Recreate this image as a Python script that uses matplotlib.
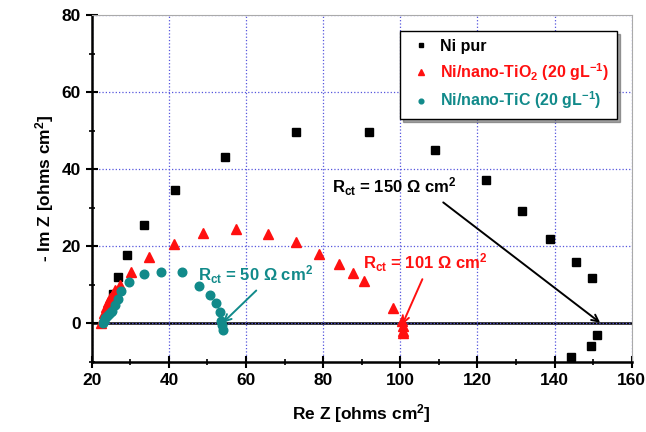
import matplotlib.pyplot as plt
from matplotlib.ticker import MultipleLocator

plt.rcParams['font.family'] = ['Liberation Sans', 'DejaVu Sans']
plt.rcParams['font.weight'] = 'bold'
plt.rcParams['mathtext.fontset'] = 'custom'
plt.rcParams['mathtext.rm'] = 'Liberation Sans:bold'
plt.rcParams['mathtext.bf'] = 'Liberation Sans:bold'
plt.rcParams['mathtext.default'] = 'bf'

# Ni pur
ni_x = [25.5, 26.8, 29.2, 33.5, 41.7, 54.6, 73.0, 91.8, 108.9, 122.1, 131.5,
        138.7, 145.6, 149.7, 151.1, 149.5, 144.3]
ni_y = [7.7, 12.0, 17.7, 25.5, 34.5, 43.3, 49.6, 49.7, 45.1, 37.1, 29.2,
        21.8, 15.9, 11.9, -3.1, -5.9, -8.6]

# Ni/nano-TiO2
tio2_x = [22.5, 22.9, 23.3, 23.8, 24.3, 24.8, 25.4, 26.1, 27.4, 30.3, 34.8,
          41.4, 48.8, 57.4, 65.8, 73.0, 78.9, 84.2, 87.7, 90.5, 98.1, 100.5,
          100.6, 100.8, 100.8]
tio2_y = [0.0, 1.4, 2.8, 4.2, 5.5, 6.6, 7.7, 8.8, 10.1, 13.3, 17.2,
          20.7, 23.5, 24.6, 23.3, 21.2, 18.1, 15.5, 13.1, 11.0, 4.1, 0.6,
          -0.6, -1.9, -2.6]

# Ni/nano-TiC
tic_x = [22.8, 23.1, 23.5, 23.9, 24.4, 24.9, 25.3, 26.0, 26.7, 27.7, 29.7,
         33.5, 38.0, 43.5, 47.8, 50.7, 52.3, 53.2, 53.6, 53.8, 53.9]
tic_y = [0.0, 0.7, 1.3, 1.9, 2.4, 2.9, 3.2, 4.9, 6.4, 8.4, 10.7,
         12.9, 13.4, 13.3, 9.8, 7.3, 5.4, 2.9, 0.6, -0.5, -1.6]

red = '#ff1010'
teal = '#118a8a'

fig = plt.figure(figsize=(6.46, 4.32), dpi=100)
ax = fig.add_axes([0.142, 0.162, 0.836, 0.803])

ax.axhline(0, color='black', lw=1.8, zorder=1)
ax.plot(ni_x, ni_y, 's', color='black', ms=6, label='Ni pur', zorder=3)
ax.plot(tio2_x, tio2_y, '^', color=red, ms=7,
        label='Ni/nano-TiO$_2$ (20 gL$^{-1}$)', zorder=3)
ax.plot(tic_x, tic_y, 'o', color=teal, ms=6.2,
        label='Ni/nano-TiC (20 gL$^{-1}$)', zorder=3)

ax.set_xlim(20, 160)
ax.set_ylim(-10, 80)
ax.xaxis.set_major_locator(MultipleLocator(20))
ax.xaxis.set_minor_locator(MultipleLocator(10))
ax.yaxis.set_major_locator(MultipleLocator(20))
ax.yaxis.set_minor_locator(MultipleLocator(10))
ax.grid(True, which='major', color='#5555dd', linestyle=':', lw=0.9)
ax.tick_params(which='major', direction='inout', length=9, width=1.5, labelsize=12.5)
ax.tick_params(which='minor', direction='inout', length=5, width=1.2)
ax.tick_params(top=False, right=False)
for lab in ax.get_xticklabels() + ax.get_yticklabels():
    lab.set_fontweight('bold')

ax.spines['left'].set_linewidth(1.8)
ax.spines['bottom'].set_linewidth(1.8)
for s in ['top', 'right']:
    ax.spines[s].set_color('#aaaaaa')
    ax.spines[s].set_linewidth(0.8)

ax.set_xlabel('Re Z [ohms cm$^2$]', fontsize=12.5, fontweight='bold', labelpad=10)
ax.set_ylabel('- Im Z [ohms cm$^2$]', fontsize=12.5, fontweight='bold', labelpad=4)

ax.annotate('R$_{ct}$ = 50 \u03a9 cm$^2$', xy=(54.0, 0.2), xytext=(47.5, 12.7),
            color=teal, fontsize=12, fontweight='bold', va='center',
            arrowprops=dict(arrowstyle='->', color=teal, lw=1.4,
                            relpos=(0.55, 0.0), shrinkA=2, shrinkB=0))
ax.annotate('R$_{ct}$ = 101 \u03a9 cm$^2$', xy=(100.5, -0.3), xytext=(90.2, 15.8),
            color=red, fontsize=12, fontweight='bold', va='center',
            arrowprops=dict(arrowstyle='->', color=red, lw=1.4,
                            relpos=(0.5, 0.0), shrinkA=2, shrinkB=0))
ax.annotate('R$_{ct}$ = 150 \u03a9 cm$^2$', xy=(151.8, 0.2), xytext=(82.2, 35.5),
            color='black', fontsize=12, fontweight='bold', va='center',
            arrowprops=dict(arrowstyle='->', color='black', lw=1.4,
                            relpos=(0.85, 0.0), shrinkA=2, shrinkB=0))

leg = ax.legend(loc='upper right', bbox_to_anchor=(0.987, 0.978), fontsize=11.5,
                frameon=True, fancybox=False, shadow=True, edgecolor='black',
                markerscale=0.55, handletextpad=0.4, handlelength=1.6,
                borderpad=0.5, labelspacing=0.45)
leg.get_frame().set_linewidth(1.0)
for txt, c in zip(leg.get_texts(), ['black', red, teal]):
    txt.set_color(c)
    txt.set_fontweight('bold')

fig.savefig('out.png', dpi=100)
